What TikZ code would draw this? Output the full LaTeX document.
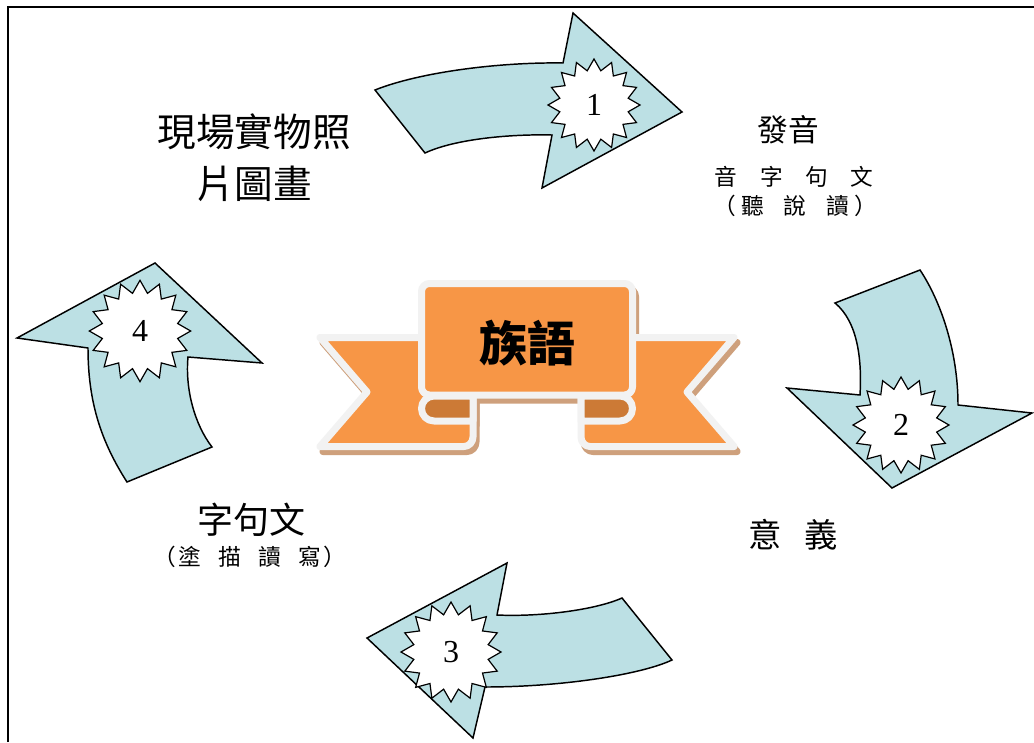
\documentclass[tikz,border=0pt]{standalone}
\usepackage{fontspec}
\newfontfamily\tc{Noto Sans CJK TC}
\newfontfamily\numfont{Liberation Serif}
\usetikzlibrary{shapes.geometric}
\definecolor{arrowblue}{RGB}{188,224,228}
\definecolor{ribbonorange}{RGB}{247,150,70}
\definecolor{folddark}{RGB}{204,122,54}
\definecolor{ribbonedge}{RGB}{242,242,242}
\definecolor{ribbonshadow}{RGB}{206,160,124}
\def\lefttail{(320,337.5) -- (445,337.5) -- (445,396) -- (473,396) -- (473,437) .. controls (473,442) and (469,446.5) .. (464,446.5) -- (320,446.5) -- (367,392) -- cycle}
\def\righttail{(734,337.5) -- (609,337.5) -- (609,396) -- (581,396) -- (581,437) .. controls (581,442) and (585,446.5) .. (590,446.5) -- (734,446.5) -- (687,392) -- cycle}
\def\leftfold{(473,396) -- (434,396) .. controls (427,396) and (421.5,401.5) .. (421.5,408.5) .. controls (421.5,415.5) and (427,421) .. (434,421) -- (473,421) -- cycle}
\def\rightfold{(581,396) -- (620,396) .. controls (627,396) and (632.5,401.5) .. (632.5,408.5) .. controls (632.5,415.5) and (627,421) .. (620,421) -- (581,421) -- cycle}
\def\panelbox{(421.5,283.5) rectangle (632.5,395)}
\begin{document}
\begin{tikzpicture}[x=0.75pt,y=-0.75pt,
  bentarrow/.style={fill=arrowblue,draw=black,line width=1.1pt,line join=miter},
  seal/.style={star,star points=16,star point ratio=1.32,draw=black,fill=white,line width=0.9pt,inner sep=0pt,font=\numfont\fontsize{24}{24}\selectfont},
  ribbonpart/.style={fill=ribbonorange,draw=ribbonedge,line width=5.25pt,line join=round},
  ribbonfold/.style={fill=folddark,draw=ribbonedge,line width=5.25pt,line join=round},
  ribbonshade/.style={fill=ribbonshadow,draw=ribbonshadow,line width=5.25pt,line join=round},
  cjk/.style={inner sep=0pt,text=black}
]
\useasboundingbox (0,0) rectangle (1034,742);
\fill[white] (0,0) rectangle (1034,742);
\draw[line width=1.4pt] (8,742) -- (8,7) -- (1034,7);

% ribbon shadow
\begin{scope}[shift={(3,5)}]
  \draw[ribbonshade] \lefttail;
  \draw[ribbonshade] \righttail;
  \draw[ribbonshade] \leftfold;
  \draw[ribbonshade] \rightfold;
  \draw[ribbonshade,rounded corners=6pt] \panelbox;
\end{scope}
% ribbon
\draw[ribbonpart] \lefttail;
\draw[ribbonpart] \righttail;
\draw[ribbonfold] \leftfold;
\draw[ribbonfold] \rightfold;
\draw[ribbonpart,rounded corners=6pt] \panelbox;
\node[cjk,font=\tc\bfseries\fontsize{36}{36}\selectfont] (zuyu) at (527,343) {族語};

% bent arrows
\draw[bentarrow] (375,90) .. controls (420,72) and (500,62) .. (563,63) -- (573,13) -- (682,112) -- (542,188) -- (552,135) .. controls (510,134) and (455,139) .. (425,153) -- cycle;
\draw[bentarrow] (920,270) .. controls (940,300) and (958,350) .. (958,405) -- (1032,413) -- (892,488) -- (787,388) -- (860,395) .. controls (862,360) and (858,322) .. (835,303) -- cycle;
\draw[bentarrow] (672,660) .. controls (640,675) and (560,687) .. (485,687) -- (473,738) -- (367,638) -- (507,563) -- (497,615) .. controls (540,617) and (595,610) .. (622,598) -- cycle;
\draw[bentarrow] (188,357) .. controls (185,390) and (195,425) .. (212,447) -- (127,482) .. controls (100,440) and (88,400) .. (88,348) -- (17,338) -- (155,263) -- (262,363) -- cycle;

% seals
\node[seal,minimum size=69pt] (n1) at (594,105) {1};
\node[seal,minimum size=72pt] (n2) at (901,425) {2};
\node[seal,minimum size=75pt] (n3) at (451,652) {3};
\node[seal,minimum size=76pt] (n4) at (140,331) {4};

% texts
\node[cjk,font=\tc\fontsize{29}{39}\selectfont,align=center] (photo) at (254,158) {現場實物照\\片圖畫};
\node[cjk,font=\tc\fontsize{23}{23}\selectfont] (fayin) at (788,130) {發音};
\node[cjk,font=\tc\fontsize{17}{17}\selectfont] (yinzi) at (794,177) {音\hspace{17pt}字\hspace{17pt}句\hspace{17pt}文};
\node[cjk,font=\tc\fontsize{17}{17}\selectfont] (tingshuo) at (795,206) {（\hspace{4pt}聽\hspace{15pt}說\hspace{15pt}讀\hspace{4pt}）};
\node[cjk,font=\tc\fontsize{25}{25}\selectfont] (yiyi) at (793,535) {意\hspace{17pt}義};
\node[cjk,font=\tc\fontsize{27}{27}\selectfont] (zijuwen) at (251,520) {字句文};
\node[cjk,font=\tc\fontsize{17}{17}\selectfont] (tumiao) at (250,557) {（\hspace{2pt}塗\hspace{13pt}描\hspace{13pt}讀\hspace{13pt}寫\hspace{2pt}）};
\end{tikzpicture}
\end{document}
